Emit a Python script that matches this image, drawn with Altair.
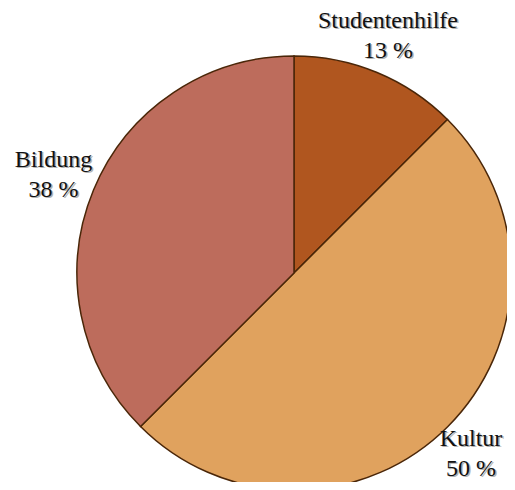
import altair as alt
import pandas as pd

categories = ["Studentenhilfe", "Kultur", "Bildung"]
values = [12.5, 50, 37.5]
labels = ["13 %", "50 %", "38 %"]
colors = ["#b0561f", "#e0a25e", "#bd6c5c"]

df = pd.DataFrame({
    "cat": categories,
    "value": values,
    "order": list(range(len(categories))),
    "label": [f"{c}\n{l}" for c, l in zip(categories, labels)],
})

cx, cy = 286, 265

base = alt.Chart(df).encode(
    theta=alt.Theta("value:Q", stack=True),
    order=alt.Order("order:Q"),
)

arc = base.mark_arc(radius=217, stroke="#4a2608", strokeWidth=1.5).encode(
    x=alt.value(cx), y=alt.value(cy),
    color=alt.Color("cat:N", scale=alt.Scale(domain=categories, range=colors), legend=None),
)

shadow = base.mark_text(radius=256, font="Liberation Serif", fontSize=24, lineBreak="\n",
                        lineHeight=30, color="#666666", opacity=0.5, dx=-2.5, dy=-14).encode(
    x=alt.value(cx), y=alt.value(cy), text="label:N")

text = base.mark_text(radius=256, font="Liberation Serif", fontSize=24, lineBreak="\n",
                      lineHeight=30, color="#111111", dx=-4, dy=-15.5).encode(
    x=alt.value(cx), y=alt.value(cy), text="label:N")

chart = alt.layer(arc, shadow, text).properties(
    width=499, height=474, padding=0, autosize=alt.AutoSizeParams(type="none")
).configure_view(stroke=None)

chart.save("out.html", embed_options={"renderer": "svg", "actions": False})
